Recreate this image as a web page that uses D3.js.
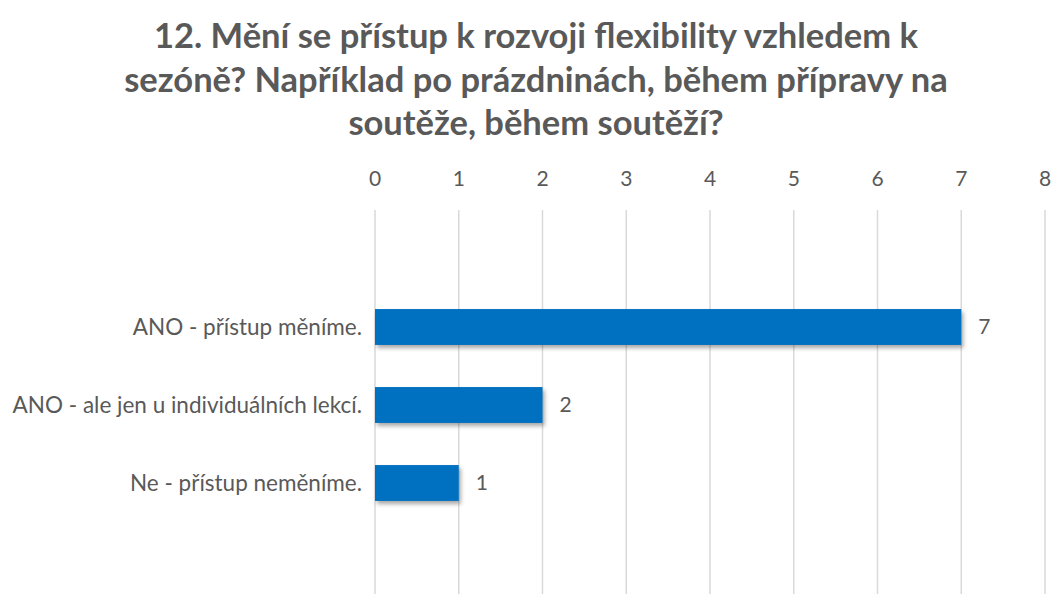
<!DOCTYPE html>
<html>
<head>
<meta charset="utf-8">
<script src="https://cdn.jsdelivr.net/npm/d3@7"></script>
<style>
  body { margin: 0; background: #fff; }
  text { font-family: Lato, "Open Sans", sans-serif; fill: #595959; }
</style>
</head>
<body>
<svg id="chart" width="1053" height="594"></svg>
<script>
const titleLines = [
    '12. Mění se přístup k rozvoji flexibility vzhledem k',
    'sezóně? Například po prázdninách, během přípravy na',
    'soutěže, během soutěží?'
];
const categories = ['ANO - přístup měníme.', 'ANO - ale jen u individuálních lekcí.', 'Ne - přístup neměníme.'];
const values = [7, 2, 1];
const ticks = [0, 1, 2, 3, 4, 5, 6, 7, 8];

const svg = d3.select('#chart');
const defs = svg.append('defs');
const f = defs.append('filter').attr('id', 'shadow')
    .attr('x', '-5%').attr('y', '-20%').attr('width', '115%').attr('height', '160%');
f.append('feDropShadow').attr('dx', 2).attr('dy', 3).attr('stdDeviation', 2)
    .attr('flood-color', '#000').attr('flood-opacity', 0.35);

const x = d3.scaleLinear().domain([0, 8]).range([375, 1045]);
const y = d3.scaleBand().domain(categories).range([288, 522]).paddingInner(0.54).paddingOuter(0.27);

// title
svg.append('g').selectAll('text').data(titleLines).join('text')
    .attr('x', 536).attr('y', (d, i) => 48 + i * 43.5)
    .attr('text-anchor', 'middle')
    .attr('font-size', '34.5px').attr('font-weight', 'bold')
    .text(d => d);

// gridlines
svg.append('g').selectAll('line').data(ticks).join('line')
    .attr('x1', d => x(d)).attr('x2', d => x(d))
    .attr('y1', 210).attr('y2', 594)
    .attr('stroke', '#d9d9d9').attr('stroke-width', 1.5);

// top tick labels
svg.append('g').selectAll('text').data(ticks).join('text')
    .attr('x', d => x(d)).attr('y', 186)
    .attr('text-anchor', 'middle')
    .attr('font-size', '21px')
    .text(d => d);

// bars
svg.append('g').selectAll('rect').data(values).join('rect')
    .attr('x', x(0))
    .attr('y', (d, i) => y(categories[i]))
    .attr('width', d => x(d) - x(0))
    .attr('height', y.bandwidth())
    .attr('fill', '#0070c0')
    .attr('filter', 'url(#shadow)');

// value labels
svg.append('g').selectAll('text').data(values).join('text')
    .attr('x', d => x(d) + 17)
    .attr('y', (d, i) => y(categories[i]) + y.bandwidth() / 2)
    .attr('dy', '0.35em')
    .attr('font-size', '21px')
    .text(d => d);

// category labels
svg.append('g').selectAll('text').data(categories).join('text')
    .attr('x', 362)
    .attr('y', d => y(d) + y.bandwidth() / 2)
    .attr('dy', '0.35em')
    .attr('text-anchor', 'end')
    .attr('font-size', '22.5px')
    .text(d => d);
</script>
</body>
</html>
